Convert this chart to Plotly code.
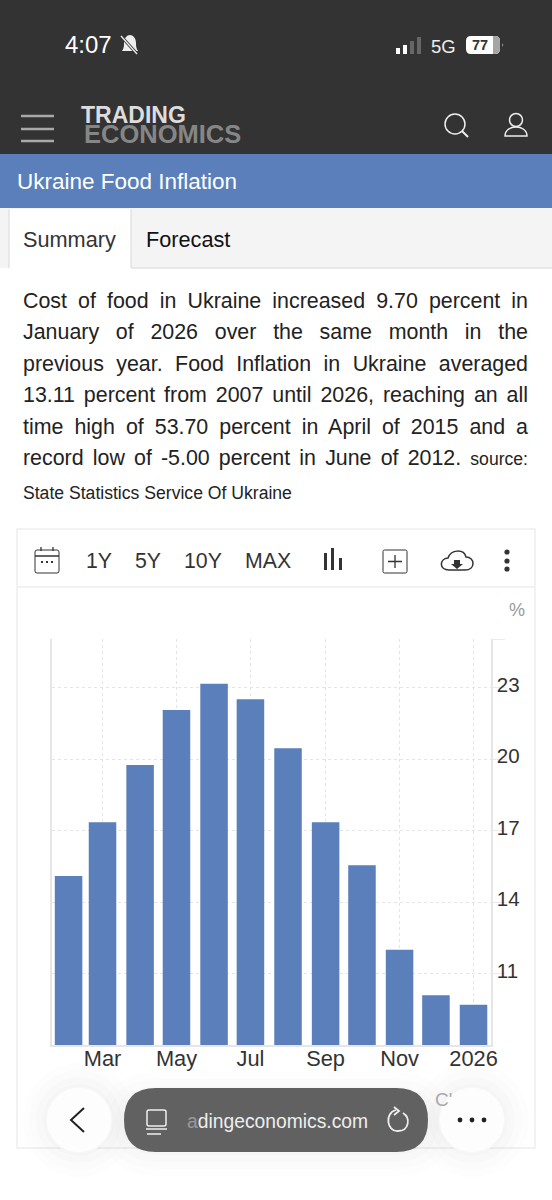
import re
import plotly.graph_objects as go

# values
months = ["2025-02-01", "2025-03-01", "2025-04-01", "2025-05-01", "2025-06-01", "2025-07-01",
          "2025-08-01", "2025-09-01", "2025-10-01", "2025-11-01", "2025-12-01", "2026-01-01"]
food_inflation = [15.1, 17.35, 19.75, 22.05, 23.15, 22.5, 20.45, 17.35, 15.55, 12.0, 10.1, 9.7]
tick_dates = ["2025-03-01", "2025-05-01", "2025-07-01", "2025-09-01", "2025-11-01", "2026-01-01"]
tick_labels = ["Mar", "May", "Jul", "Sep", "Nov", "2026"]
y_ticks = [11, 14, 17, 20, 23, 25]
y_labels = ["11", "14", "17", "20", "23", ""]
range_buttons = [("1Y", 99), ("5Y", 148), ("10Y", 203), ("MAX", 268)]
body_lines = [
    "Cost of food in Ukraine increased 9.70 percent in",
    "January of 2026 over the same month in the",
    "previous year. Food Inflation in Ukraine averaged",
    "13.11 percent from 2007 until 2026, reaching an all",
    "time high of 53.70 percent in April of 2015 and a",
    "record low of -5.00 percent in June of 2012. <span style='font-size:17.6px'>source:</span>",
]

W, H = 552, 1200
BLUE = "#5a7fba"
FONT = "Liberation Sans"
DARK = "#333333"
shapes = []
notes = []


def px(x):
    return x / W


def py(y):
    return 1 - y / H


def conv(d):
    # page pixels -> paper coords, tokens alternate x then y
    out = []
    is_x = True
    for tok in re.findall(r"[MLCQZ]|-?\d+\.?\d*", d):
        if tok in "MLCQZ":
            out.append(tok)
            is_x = True
        else:
            out.append(str(px(float(tok)) if is_x else py(float(tok))))
            is_x = not is_x
    return " ".join(out)


def path(d, fill=None, line=None, width=1.5, layer="above"):
    shapes.append(dict(type="path", xref="paper", yref="paper", path=conv(d), layer=layer,
                       fillcolor=fill or "rgba(0,0,0,0)",
                       line=dict(color=line or "rgba(0,0,0,0)", width=width if line else 0)))


def rect(x0, y0, x1, y1, fill=None, line=None, width=1, layer="above"):
    path(f"M{x0} {y0} L{x1} {y0} L{x1} {y1} L{x0} {y1} Z", fill, line, width, layer)


def pill(x0, y0, x1, y1, r, fill=None, line=None, width=1, layer="above"):
    path(f"M{x0+r} {y0} L{x1-r} {y0} Q{x1} {y0} {x1} {y0+r} L{x1} {y1-r} Q{x1} {y1} {x1-r} {y1} "
         f"L{x0+r} {y1} Q{x0} {y1} {x0} {y1-r} L{x0} {y0+r} Q{x0} {y0} {x0+r} {y0} Z", fill, line, width, layer)


def circle(cx, cy, r, fill=None, line=None, width=1.5, layer="above"):
    shapes.append(dict(type="circle", xref="paper", yref="paper", layer=layer,
                       x0=px(cx - r), x1=px(cx + r), y0=py(cy + r), y1=py(cy - r),
                       fillcolor=fill or "rgba(0,0,0,0)",
                       line=dict(color=line or "rgba(0,0,0,0)", width=width if line else 0)))


def text(x, y, s, size=20, color="#222222", anchor="left", bold=False):
    if bold:
        s = f"<b>{s}</b>"
    if anchor == "left":
        x -= 1  # left-anchored labels land a pixel to the right
    notes.append(dict(xref="paper", yref="paper", x=px(x), y=py(y), text=s, showarrow=False,
                      xanchor=anchor, yanchor="middle", align=anchor, borderpad=0,
                      font=dict(family=FONT, size=size, color=color)))


# status bar + site header
rect(0, 0, W, 154, fill="#333333", layer="below")
text(65, 45, "4:07", 24, "#ffffff")
path("M122 51 C124 48 124 46 124 43 C124 38 127 35 130 35 C133 35 136 38 136 43 C136 46 136 48 138 51 Z", fill="#eeeeee")
path("M120 35 L138 55", line="#333333", width=3)
path("M121 36 L137 54", line="#eeeeee", width=1.3)
rect(396, 48, 400, 54, fill="#ffffff")
rect(403, 45, 407, 54, fill="#ffffff")
rect(410, 41, 414, 54, fill="#666666")
rect(417, 37, 421, 54, fill="#666666")
text(431, 46, "5G", 18.5, "#eeeeee")
pill(466, 36, 500, 54, 5, fill="#ffffff")
path("M493 36 L495 36 Q500 36 500 41 L500 49 Q500 54 495 54 L493 54 Z", fill="#a5a5a5")
text(480, 45, "77", 14.5, "#333333", "center", True)
path("M502 43 L503.5 45 L502 47 Z", fill="#888888")
for y in (116, 129, 141):
    path(f"M21 {y} L54 {y}", line="#a9a9a9", width=2.5)
text(81, 115, "TRADING", 23, "#dddddd", bold=True)
text(84, 134, "ECONOMICS", 25.5, "#868686", bold=True)
circle(455, 124, 10, line="#eeeeee")
path("M462 131 L468 137", line="#eeeeee", width=2)
circle(516, 120, 6.5, line="#eeeeee")
path("M505 136 C505 124 527 124 527 136 Z", line="#eeeeee")

# title band and tabs
rect(0, 154, W, 208, fill=BLUE, layer="below")
text(17, 181, "Ukraine Food Inflation", 22.5, "#ffffff")
rect(0, 208, W, 268, fill="#f4f4f4", layer="below")
rect(9, 209, 131, 270, fill="#ffffff", layer="below")
path("M9 209 L9 268 M131 209 L131 268 M131 268 L552 268", line="#d8d8d8", width=1, layer="below")
text(23, 240, "Summary", 21.7, "#333333")
text(146, 240, "Forecast", 21.7, "#111111")

# paragraph, JS below stretches these to full column width
for i, line in enumerate(body_lines):
    text(23, 300.5 + i * 31.5, line, 21.4, "#222222")
text(23, 492.5, "State Statistics Service Of Ukraine", 17.6, "#222222")

# chart card and toolbar
rect(17, 529, 535, 1148, fill="#ffffff", line="#eeeef2", width=1.5, layer="below")
path("M17 587 L535 587", line="#eeeef2", width=1.5, layer="below")
pill(35, 550, 59, 573, 2, line=DARK)
path("M35 556 L59 556 M41 547 L41 551 M53 547 L53 551", line=DARK, width=1.3)
for x in (42, 47, 52):
    rect(x - 1, 561, x + 1, 563, fill=DARK)
for label, x in range_buttons:
    text(x, 561, label, 21.3, DARK, "center")
rect(324, 553, 327, 570, fill=DARK)
rect(331, 548, 334, 570, fill=DARK)
rect(339, 558, 342, 570, fill=DARK)
pill(383, 550, 407, 573, 1.5, line=DARK)
path("M395 555 L395 568 M388 561.5 L402 561.5", line=DARK, width=1.3)
path("M449 570 C439 570 439 559 448 558 C451 549 464 549 466 557 C475 557 476 570 465 570 Z", line=DARK, width=1.5)
path("M454 560 L460 560 L460 564 L463 564 L457 569 L451 564 L454 564 Z", fill=DARK)
for y in (552, 561, 569):
    circle(507, y, 2.6, fill=DARK)
text(517, 610, "%", 18, "#999999", "center")

# fade + browser controls at the bottom
text(435, 1099, "C'", 19, "#aaaaaa")
for i, a in enumerate((0.006, 0.008, 0.01, 0.012)):
    g = 24 - i * 7
    pill(124 - g, 1088 - g + 8, 428 + g, 1152 + g, 32 + g, fill=f"rgba(0,0,0,{a})")
    circle(79, 1120, 33 + g, fill=f"rgba(0,0,0,{a})")
    circle(472, 1120, 33 + g, fill=f"rgba(0,0,0,{a})")
circle(79, 1120, 33, fill="#fdfdfd", line="#f6f6f6")
circle(472, 1120, 33, fill="#fdfdfd", line="#f6f6f6")
pill(124, 1088, 428, 1152, 32, fill="#616161")
path("M84 1108 L71 1120 L84 1132", line="#222222", width=2)
for x in (460, 472, 484):
    circle(x, 1120, 2.4, fill="#222222")
pill(147, 1110, 166, 1126, 2, line="#eeeeee", width=1.5)
path("M146 1129 L167 1129 M147 1134 L161 1134", line="#eeeeee", width=1.6)
text(187, 1121, "<span style='color:#9a9a9a'>a</span>dingeconomics.com", 19.3, "#eeeeee")
path("M396 1110 C384 1113 387 1132 398 1131 C409 1131 411 1118 403 1113", line="#eeeeee", width=1.8)
path("M394 1107 L399 1111 L394 1115", line="#eeeeee", width=1.8)

fig = go.Figure(go.Bar(x=months, y=food_inflation, width=22.7 * 86400000,
                       marker=dict(color=BLUE, line=dict(width=0))))
fig.update_layout(
    width=W, height=H, margin=dict(l=0, r=0, t=0, b=0), showlegend=False,
    paper_bgcolor="#ffffff", plot_bgcolor="rgba(0,0,0,0)",
    font=dict(family=FONT, color=DARK),
    shapes=shapes, annotations=notes,
)
# automargin off, otherwise the tick labels squeeze the whole page
fig.update_xaxes(
    automargin=False,
    type="date", domain=[px(52), px(491)], range=["2025-01-18 08:00", "2026-01-15 10:00"],
    tickmode="array", tickvals=tick_dates, ticktext=tick_labels,
    showgrid=True, gridcolor="#e4e4e4", griddash="dot", gridwidth=1,
    showline=True, linecolor="#e6e6e6", linewidth=1.5, ticks="",
    ticklabelstandoff=-7,
    tickfont=dict(size=21.8, color=DARK), fixedrange=True,
)
fig.update_yaxes(
    automargin=False,
    domain=[py(1045.3), py(639)], range=[8, 25.03], side="right",
    tickmode="array", tickvals=y_ticks, ticktext=y_labels,
    showgrid=True, gridcolor="#e4e4e4", griddash="dot", gridwidth=1, zeroline=False,
    showline=True, mirror=True, linecolor="#e6e6e6", linewidth=1.5,
    ticks="outside", ticklen=12, tickcolor="#eaeaea", tickwidth=1,
    ticklabelstandoff=-12, ticklabelshift=-3,
    tickfont=dict(size=20.5, color=DARK), fixedrange=True,
)

justify = """
document.body.style.margin = '0';
document.body.style.overflow = 'hidden';
document.querySelectorAll('.annotation-text').forEach(function (t) {
    var s = t.textContent;
    if (s.length > 40) {
        t.style.wordSpacing = ((505 - t.getComputedTextLength()) / (s.split(' ').length - 1)) + 'px';
    }
});
"""
fig.write_html("out.html", config=dict(displayModeBar=False), post_script=justify)
